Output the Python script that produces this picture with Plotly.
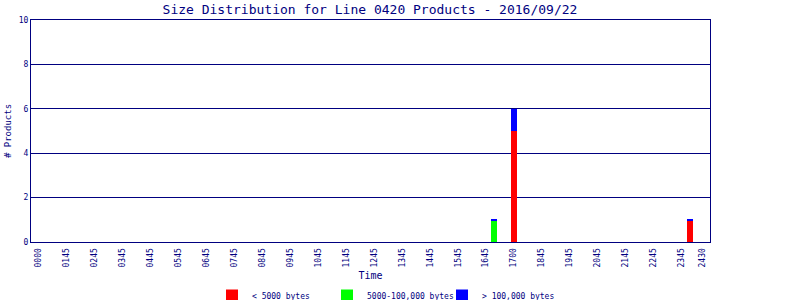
import plotly.graph_objects as go

# Data
tick_pos = list(range(24)) + [23.75]
tick_text = ["0000", "0145", "0245", "0345", "0445", "0545", "0645", "0745",
             "0845", "0945", "1045", "1145", "1245", "1345", "1445", "1545",
             "1645", "1700", "1845", "1945", "2045", "2145", "2245", "2345", "2430"]
bar_pos = [16.28, 17.02, 23.30]
small = [0, 5, 0.95]        # < 5000 bytes
medium = [0.95, 0, 0]       # 5000-100,000 bytes
large = [0.05, 1, 0.05]     # > 100,000 bytes

NAVY = "#000080"
FONT = "DejaVu Sans Mono"

fig = go.Figure()
for name, vals, col in [("< 5000 bytes", small, "#FF0000"),
                        ("5000-100,000 bytes", medium, "#00FF00"),
                        ("> 100,000 bytes", large, "#0000FF")]:
    fig.add_trace(go.Bar(x=bar_pos, y=vals, name=name, width=0.21,
                         marker=dict(color=col, line=dict(width=0))))

fig.update_layout(
    barmode="stack",
    width=800, height=300,
    margin=dict(l=31, r=90, t=20, b=58, autoexpand=False),
    paper_bgcolor="white", plot_bgcolor="white",
    font=dict(family=FONT, color=NAVY, size=8),
    title=dict(text="Size Distribution for Line 0420 Products - 2016/09/22",
               x=0.4625, xanchor="center", y=0.97, yanchor="middle",
               font=dict(family=FONT, size=13, color=NAVY)),
    showlegend=True,
    legend=dict(orientation="h", xref="container", yref="container",
                x=0.265, xanchor="left", y=0.015, yanchor="middle",
                font=dict(family=FONT, size=8, color=NAVY),
                itemwidth=30, entrywidth=70, traceorder="normal",
                bgcolor="rgba(0,0,0,0)"),
    bargap=0,
)
fig.update_xaxes(range=[-0.276, 24.02], tickmode="array", tickvals=tick_pos,
                 ticktext=tick_text, tickangle=-90, ticks="", showgrid=False,
                 showline=True, mirror=True, linecolor=NAVY, linewidth=1,
                 tickfont=dict(family=FONT, size=8, color=NAVY),
                 ticklabelstandoff=2,
                 automargin=False,
                 title=dict(text="Time", standoff=10,
                            font=dict(family=FONT, size=10, color=NAVY)),
                 zeroline=False)
fig.update_yaxes(range=[0, 10], tickvals=[0, 2, 4, 6, 8, 10], ticks="",
                 showgrid=True, gridcolor=NAVY, gridwidth=1,
                 showline=True, mirror=True, linecolor=NAVY, linewidth=1,
                 tickfont=dict(family=FONT, size=8, color=NAVY),
                 automargin=False,
                 title=dict(text="# Products", standoff=5,
                            font=dict(family=FONT, size=9, color=NAVY)),
                 zeroline=False)

fig.write_html("out.html")
